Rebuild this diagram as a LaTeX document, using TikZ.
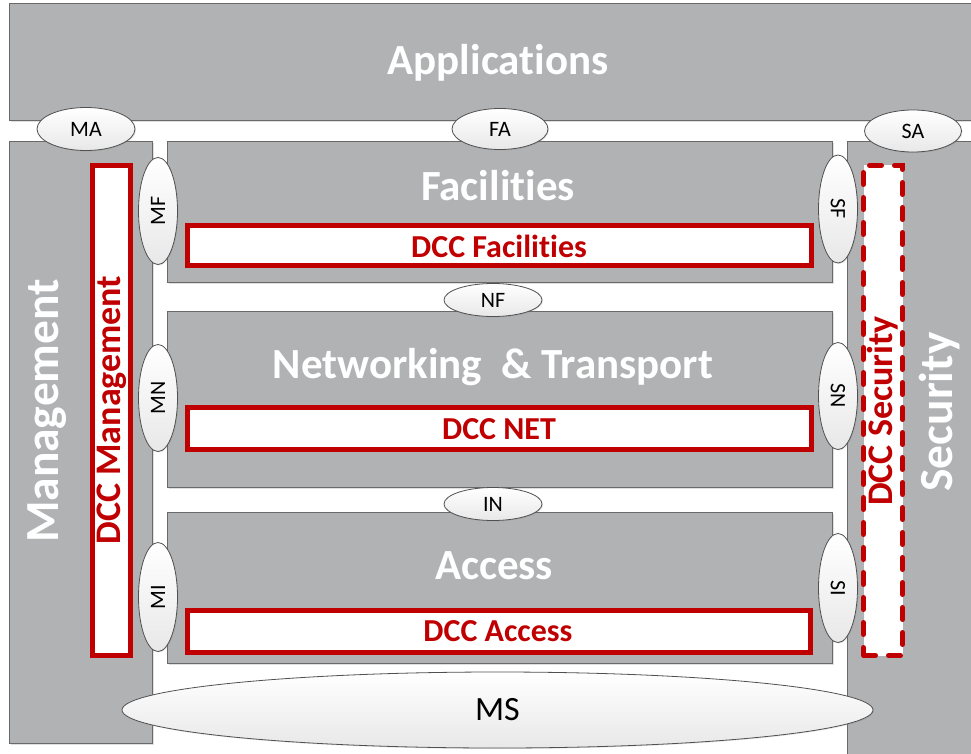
\documentclass[tikz,border=0pt]{standalone}
\usepackage{fontspec}
\setmainfont{Carlito}[Ligatures=CommonOff]
\usetikzlibrary{shadows,shapes.geometric}
\definecolor{boxgray}{RGB}{177,178,180}
\definecolor{boxline}{RGB}{105,105,105}
\definecolor{dccred}{RGB}{192,0,0}
\definecolor{ellline}{RGB}{80,80,80}
\tikzset{
  graybox/.style={draw=boxline, line width=1pt, fill=boxgray, rectangle, inner sep=0pt, outer sep=0pt,
    drop shadow={opacity=0.25, shadow xshift=1.5pt, shadow yshift=-1.5pt}},
  dccbox/.style={draw=dccred, line width=5pt, fill=white, rectangle, inner sep=0pt, outer sep=0pt},
  dccdash/.style={dccbox, dash pattern=on 12pt off 13pt, line cap=round},
  iface/.style={ellipse, draw=ellline, line width=0.8pt, top color=white, bottom color=black!9,
    inner sep=0pt, outer sep=0pt, font=\fontsize{22}{26}\selectfont,
    drop shadow={opacity=0.2, shadow xshift=1pt, shadow yshift=-1pt}},
  head/.style={text=white, font=\fontsize{43}{51}\selectfont\bfseries, inner sep=0pt},
  sidehead/.style={text=white, font=\fontsize{47.5}{56}\selectfont\bfseries, inner sep=0pt, rotate=90},
  dcctext/.style={text=dccred, font=\fontsize{32}{38}\selectfont\bfseries, inner sep=0pt},
  dccside/.style={text=dccred, font=\fontsize{36}{43}\selectfont\bfseries, inner sep=0pt, rotate=90},
}
\begin{document}
\begin{tikzpicture}[x=1pt, y=-1pt]
\useasboundingbox (0,0) rectangle (971,754);
\fill[white] (0,0) rectangle (971,754);
% big boxes
\node[graybox, minimum width=971pt, minimum height=117pt] (app) at (494.5,62.5) {};
\node[graybox, minimum width=143pt, minimum height=601pt] (mgmt) at (80.5,442.5) {};
\node[graybox, minimum width=133pt, minimum height=620pt] (sec) at (913.5,452) {};
\node[graybox, minimum width=665pt, minimum height=140pt] (fac) at (499.5,212) {};
\node[graybox, minimum width=665pt, minimum height=176pt] (net) at (499.5,399) {};
\node[graybox, minimum width=665pt, minimum height=151pt] (acc) at (499.5,587.5) {};
% DCC boxes
\node[dccbox, minimum width=38pt, minimum height=490pt] (dccm) at (111.5,410.5) {};
\node[dccdash, minimum width=39pt, minimum height=490pt] (dccs) at (883,410.5) {};
\node[dccbox, minimum width=624pt, minimum height=40pt] (dccf) at (499.5,245.5) {};
\node[dccbox, minimum width=624pt, minimum height=42pt] (dccn) at (499.5,428.5) {};
\node[dccbox, minimum width=623pt, minimum height=42pt] (dcca) at (499,631.5) {};
% texts
\node[head] (appt) at (498,63) {Applications};
\node[head] (fact) at (498,186) {Facilities};
\node[head] (nett) at (493,367) {Networking\ \ \&\ Transport};
\node[head] (acct) at (494,566) {Access};
\node[sidehead] (mgmtt) at (47,411) {Management};
\node[sidehead] (sect) at (940,412) {Security};
\node[dcctext] (dccft) at (499,246) {DCC Facilities};
\node[dcctext] (dccnt) at (499,429) {DCC NET};
\node[dcctext] (dccat) at (498,631) {DCC Access};
\node[dccside] (dccmt) at (112,410) {DCC Management};
\node[dccside] (dccst) at (883,411) {DCC Security};
% interfaces
\node[iface, minimum width=98pt, minimum height=43pt] (ma) at (86,129) {MA};
\node[iface, minimum width=96pt, minimum height=41pt] (fa) at (500,129) {FA};
\node[iface, minimum width=97pt, minimum height=42pt] (sa) at (913,131) {SA};
\node[iface, minimum width=39pt, minimum height=107pt] (mf) at (158,211) {\rotatebox{90}{MF}};
\node[iface, minimum width=39pt, minimum height=107pt] (mn) at (158,398) {\rotatebox{90}{MN}};
\node[iface, minimum width=39pt, minimum height=109pt] (mi) at (158,597) {\rotatebox{90}{MI}};
\node[iface, minimum width=39pt, minimum height=108pt] (sf) at (838,209) {\rotatebox{-90}{SF}};
\node[iface, minimum width=39pt, minimum height=107pt] (sn) at (838,396) {\rotatebox{-90}{SN}};
\node[iface, minimum width=39pt, minimum height=109pt] (si) at (838,588) {\rotatebox{-90}{SI}};
\node[iface, minimum width=98pt, minimum height=33pt] (nf) at (493,300) {NF};
\node[iface, minimum width=98pt, minimum height=33pt] (in) at (493,504) {IN};
\node[iface, minimum width=751pt, minimum height=76pt, font=\fontsize{34}{40}\selectfont] (ms) at (497.5,710) {MS};
\end{tikzpicture}
\end{document}
